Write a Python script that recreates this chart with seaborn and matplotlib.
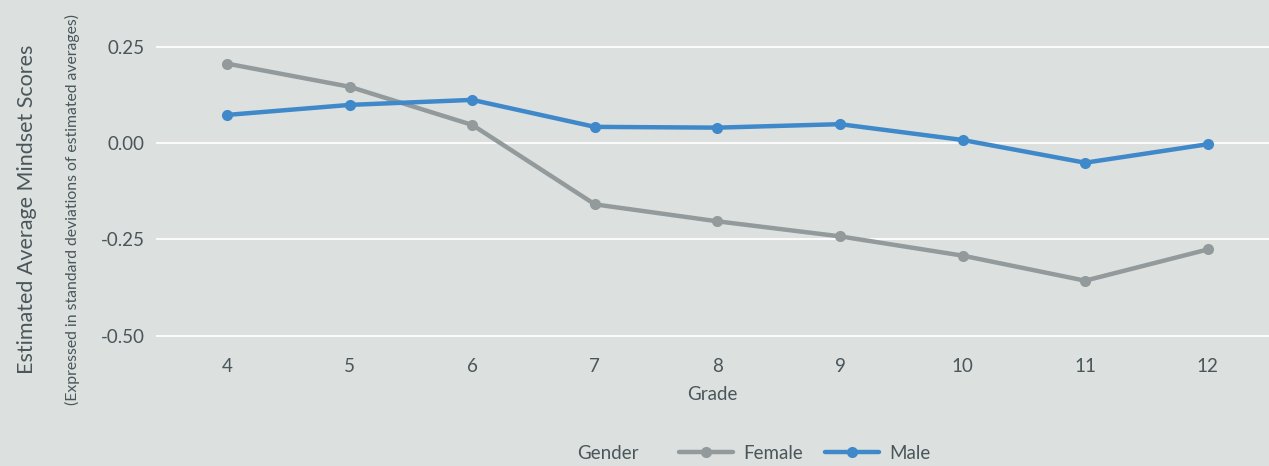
import numpy as np
import pandas as pd
import matplotlib.pyplot as plt
import seaborn as sns

# values
grades = [4, 5, 6, 7, 8, 9, 10, 11, 12]
female = [0.206, 0.146, 0.047, -0.159, -0.203, -0.242, -0.292, -0.357, -0.276]
male = [0.073, 0.099, 0.112, 0.042, 0.040, 0.049, 0.008, -0.051, -0.003]
yticks = [-0.50, -0.25, 0.00, 0.25]

df = pd.DataFrame({
    'Grade': grades * 2,
    'Score': female + male,
    'Gender': ['Female'] * len(grades) + ['Male'] * len(grades),
})

bg = '#dce0df'
txt = '#4a5659'

sns.set_style('white')
plt.rcParams['font.family'] = ['Lato', 'DejaVu Sans']

fig = plt.figure(figsize=(12.69, 4.66), dpi=100, facecolor=bg)
ax = fig.add_axes([0.123, 0.238, 0.877, 0.728])
ax.set_facecolor(bg)

sns.lineplot(data=df, x='Grade', y='Score', hue='Gender',
             palette={'Female': '#939a9b', 'Male': '#3f88c9'},
             marker='o', markersize=8, markeredgewidth=0, linewidth=3.2,
             ax=ax, zorder=3)

ax.set_xlim(3.42, 12.5)
ax.set_ylim(-0.55, 0.33)
ax.set_xticks(grades)
ax.set_yticks(yticks)
ax.set_yticklabels([f'{v:.2f}' for v in yticks])
ax.yaxis.grid(True, color='white', linewidth=1.3)
ax.set_axisbelow(True)
for s in ax.spines.values():
    s.set_visible(False)
ax.tick_params(length=0, labelsize=13.5, colors=txt, pad=8)
ax.tick_params(axis='x', pad=2)

ax.set_xlabel('Grade', fontsize=13.5, color=txt, labelpad=8)
ax.set_ylabel('')

fig.text(0.021, 0.55, 'Estimated Average Mindset Scores', rotation=90,
         ha='center', va='center', fontsize=15.5, color=txt)
fig.text(0.057, 0.55, '(Expressed in standard deviations of estimated averages)',
         rotation=90, ha='center', va='center', fontsize=11.3, color=txt)

handles, labels = ax.get_legend_handles_labels()
ax.get_legend().remove()
fig.text(0.479, 0.027, 'Gender', ha='center', va='center', fontsize=13.5, color=txt)
leg = fig.legend(handles, labels, loc='center', bbox_to_anchor=(0.634, 0.027),
                 ncol=2, frameon=False, fontsize=13.5, handlelength=2.9,
                 columnspacing=1.2, handletextpad=0.5)
for t in leg.get_texts():
    t.set_color(txt)

fig.savefig('out.png', dpi=100, facecolor=bg)
